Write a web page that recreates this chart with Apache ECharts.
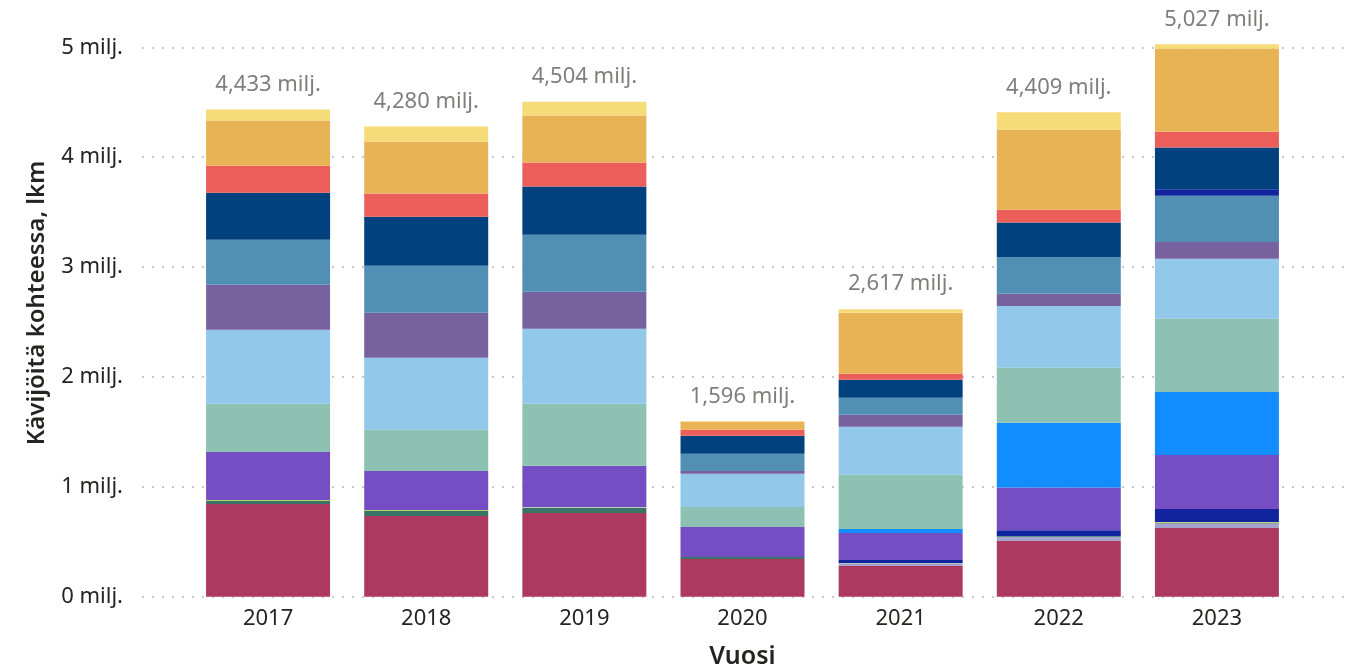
<!DOCTYPE html>
<html>
<head>
<meta charset="utf-8">
<script src="https://cdn.jsdelivr.net/npm/echarts@6/dist/echarts.min.js"></script>
<style>html,body{margin:0;padding:0;background:#fff;}#c{width:1361px;height:672px;}</style>
</head>
<body>
<div id="c"></div>
<script>
const years = ['2017','2018','2019','2020','2021','2022','2023'];
const totals = [4.433, 4.280, 4.504, 1.596, 2.617, 4.409, 5.027];
const yTicks = [0, 1, 2, 3, 4, 5];

const crimson     = [0.844, 0.735, 0.762, 0.343, 0.280, 0.507, 0.626];
const lavender    = [0, 0, 0, 0, 0.024, 0.038, 0.041];
const green       = [0.027, 0.046, 0.046, 0.018, 0, 0.008, 0.007];
const lime        = [0.009, 0.009, 0, 0, 0.003, 0, 0.006];
const grey        = [0, 0, 0.009, 0, 0, 0, 0];
const darkBlue    = [0, 0, 0, 0, 0.027, 0.052, 0.118];
const purple      = [0.437, 0.355, 0.374, 0.274, 0.246, 0.388, 0.491];
const brightBlue  = [0, 0, 0, 0, 0.037, 0.589, 0.573];
const seafoam     = [0.438, 0.374, 0.565, 0.182, 0.492, 0.501, 0.667];
const sky         = [0.674, 0.656, 0.683, 0.301, 0.437, 0.563, 0.547];
const mutedPurple = [0.410, 0.410, 0.337, 0.027, 0.109, 0.111, 0.153];
const steel       = [0.410, 0.428, 0.519, 0.155, 0.155, 0.335, 0.420];
const darkBlue2   = [0, 0, 0, 0, 0, 0, 0.059];
const navy        = [0.428, 0.446, 0.438, 0.164, 0.164, 0.313, 0.381];
const red         = [0.246, 0.210, 0.218, 0.055, 0.055, 0.117, 0.143];
const orange      = [0.410, 0.474, 0.429, 0.072, 0.556, 0.729, 0.758];
const yellow      = [0.100, 0.137, 0.124, 0.005, 0.032, 0.158, 0.037];

const stackDefs = [
  [crimson, '#AD3961'], [lavender, '#A5A3CE'], [green, '#3A7467'], [lime, '#B9D26B'],
  [grey, '#C4C7C2'], [darkBlue, '#12239E'], [purple, '#744EC2'], [brightBlue, '#118DFF'],
  [seafoam, '#8DC2B3'], [sky, '#92C8E9'], [mutedPurple, '#77629F'], [steel, '#528FB5'],
  [darkBlue2, '#12239E'], [navy, '#01417E'], [red, '#EB5E59'], [orange, '#E8B355'], [yellow, '#F6DC78']
];

const FONT = "'Segoe UI', 'Noto Sans', sans-serif";
const chart = echarts.init(document.getElementById('c'), null, {renderer: 'canvas'});

const series = stackDefs.map(([arr, col], i) => ({
  type: 'bar', name: 's' + i, stack: 'total', xAxisIndex: 1, yAxisIndex: 1,
  data: arr, barWidth: 124, clip: false, silent: true,
  itemStyle: {color: col}
}));
series.push({
  type: 'scatter', xAxisIndex: 1, yAxisIndex: 1, data: totals, symbolSize: 0, clip: false, silent: true,
  label: {
    show: true, position: 'top', distance: 14, color: '#605E5C', fontSize: 22, fontFamily: FONT,
    formatter: p => {
      const s = Math.round(p.value * 1000).toString();
      return s.slice(0, s.length - 3) + ',' + s.slice(s.length - 3) + ' milj.';
    }
  }
});

chart.setOption({
  animation: false,
  grid: [
    {left: 142, right: 16, top: 47.3, bottom: 75.3, outerBoundsMode: 'none', containLabel: false},
    {left: 189, right: 65, top: 47.3, bottom: 75.3, outerBoundsMode: 'none', containLabel: false}
  ],
  xAxis: [
    {type: 'category', gridIndex: 0, data: years, show: false},
    {type: 'category', gridIndex: 1, data: years,
     axisLine: {show: false}, axisTick: {show: false},
     axisLabel: {color: '#252423', fontSize: 22, fontFamily: FONT, margin: 11},
     name: 'Vuosi', nameLocation: 'middle', nameGap: 48,
     nameTextStyle: {color: '#252423', fontSize: 25, fontWeight: 600, fontFamily: FONT}}
  ],
  yAxis: [
    {type: 'value', gridIndex: 0, min: yTicks[0], max: yTicks[yTicks.length - 1], interval: 1,
     axisLine: {show: false}, axisTick: {show: false},
     axisLabel: {color: '#252423', fontSize: 22, fontFamily: FONT, margin: 19, formatter: v => v + ' milj.'},
     splitLine: {show: true, lineStyle: {color: '#C8C8C8', width: 2, type: [2, 8]}}},
    {type: 'value', gridIndex: 1, min: yTicks[0], max: yTicks[yTicks.length - 1], interval: 1, show: false,
     splitLine: {show: false}}
  ],
  graphic: [{
    type: 'text', x: 37, y: 303, rotation: Math.PI / 2,
    style: {text: 'Kävijöitä kohteessa, lkm', fill: '#252423', fontSize: 24, fontWeight: 600,
            fontFamily: FONT, align: 'center', verticalAlign: 'middle'}
  }],
  series: series
});
</script>
</body>
</html>
